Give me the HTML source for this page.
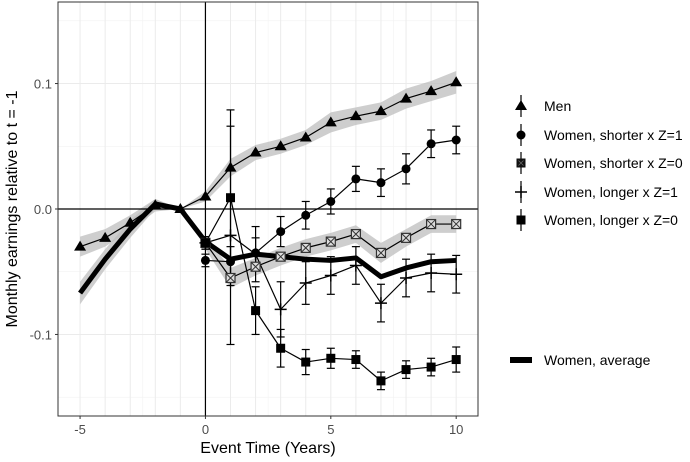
<!DOCTYPE html>
<html><head><meta charset="utf-8"><style>
body{margin:0;background:#fff;font-family:"Liberation Sans",sans-serif}
svg{display:block}
</style></head><body>
<svg id="chart" width="690" height="462" xmlns="http://www.w3.org/2000/svg"></svg>
<script>
const years=[-5,-4,-3,-2,-1,0,1,2,3,4,5,6,7,8,9,10];
const yearsPost=[0,1,2,3,4,5,6,7,8,9,10];
const men=[-0.030,-0.023,-0.011,0.003,0,0.010,0.033,0.045,0.050,0.057,0.069,0.074,0.078,0.088,0.094,0.101];
const menSe=[0.008,0.007,0.006,0.005,0,0.004,0.007,0.006,0.006,0.006,0.008,0.007,0.007,0.008,0.008,0.009];
const avg=[-0.067,-0.040,-0.016,0.004,0,-0.026,-0.040,-0.036,-0.038,-0.040,-0.041,-0.039,-0.054,-0.047,-0.042,-0.041];
const avgSe=[0.009,0.008,0.007,0.004,0,0.004,0.004,0.004,0.004,0.004,0.004,0.004,0.004,0.004,0.004,0.004];
const shortZ1=[-0.041,-0.042,-0.035,-0.018,-0.005,0.006,0.024,0.021,0.032,0.052,0.055];
const shortZ1Se=[0.005,0.012,0.012,0.012,0.011,0.010,0.010,0.011,0.012,0.011,0.011];
const shortZ0=[-0.027,-0.055,-0.046,-0.038,-0.031,-0.026,-0.020,-0.035,-0.023,-0.012,-0.012];
const shortZ0Se=[0.005,0.008,0.007,0.007,0.007,0.007,0.007,0.008,0.007,0.007,0.007];
const longZ1=[-0.027,-0.021,-0.036,-0.080,-0.059,-0.053,-0.045,-0.075,-0.055,-0.051,-0.052];
const longZ1Se=[0.005,0.087,0.022,0.022,0.017,0.015,0.015,0.015,0.015,0.015,0.015];
const longZ0=[-0.027,0.009,-0.081,-0.111,-0.122,-0.119,-0.120,-0.137,-0.128,-0.126,-0.120];
const longZ0Se=[0.005,0.070,0.019,0.015,0.010,0.008,0.007,0.007,0.007,0.007,0.010];
const xTicks=[-5,0,5,10];
const yTicks=[-0.1,0,0.1];
const yTickLabels=["-0.1","0.0","0.1"];

const L=58,R=478,T=2,B=416;
const xMin=-5.88,xMax=10.87,yMin=-0.165,yMax=0.165;
const X=v=>L+(v-xMin)/(xMax-xMin)*(R-L);
const Y=v=>B-(v-yMin)/(yMax-yMin)*(B-T);
const svg=document.getElementById('chart');
const NS='http://www.w3.org/2000/svg';
function mk(tag,attrs,parent){const e=document.createElementNS(NS,tag);for(const k in attrs)e.setAttribute(k,attrs[k]);(parent||svg).appendChild(e);return e;}

const grid=mk('g',{});


[-2.5,2.5,7.5].forEach(v=>mk('line',{x1:X(v),x2:X(v),y1:T,y2:B,stroke:'#f2f2f2','stroke-width':0.6},grid));
[-0.15,-0.05,0.05,0.15].forEach(v=>mk('line',{x1:L,x2:R,y1:Y(v),y2:Y(v),stroke:'#f2f2f2','stroke-width':0.6},grid));
years.forEach(v=>mk('line',{x1:X(v),x2:X(v),y1:T,y2:B,stroke:'#ebebeb','stroke-width':1},grid));
yTicks.forEach(v=>mk('line',{x1:L,x2:R,y1:Y(v),y2:Y(v),stroke:'#ebebeb','stroke-width':1},grid));

function band(xs,ys,se,name){
  let d='M'+xs.map((x,i)=>X(x)+','+Y(ys[i]+se[i])).join('L');
  d+='L'+xs.map((x,i)=>X(x)+','+Y(ys[i]-se[i])).reverse().join('L')+'Z';
  const p=mk('path',{d:d,fill:'#bdbdbd','fill-opacity':0.75});
  
  
}
band(years,men,menSe,'men-ci-band');
band(years.slice(0,5),avg.slice(0,5),avgSe.slice(0,5),'avg-ci-band');
band(yearsPost,shortZ0,shortZ0Se,'short-z0-ci-band');

mk('line',{x1:X(0),x2:X(0),y1:T,y2:B,stroke:'#000','stroke-width':1.2});
mk('line',{x1:L,x2:R,y1:Y(0),y2:Y(0),stroke:'#000','stroke-width':1.2});

function line(xs,ys,w,name){
  const p=mk('polyline',{points:xs.map((x,i)=>X(x)+','+Y(ys[i])).join(' '),fill:'none',stroke:'#000','stroke-width':w,'stroke-linejoin':'round'});
  
  
}
function errs(xs,ys,se,name){
  const g=mk('g',{stroke:'#000','stroke-width':1.2});
  
  
  xs.forEach((x,i)=>{const a=Y(ys[i]+se[i]),b=Y(ys[i]-se[i]),cx=X(x);
    mk('line',{x1:cx,x2:cx,y1:a,y2:b},g);
    mk('line',{x1:cx-4,x2:cx+4,y1:a,y2:a},g);
    mk('line',{x1:cx-4,x2:cx+4,y1:b,y2:b},g);});
}
function marker(type,cx,cy,parent){
  if(type==='tri')mk('path',{d:`M${cx},${cy-6}L${cx+6},${cy+4}L${cx-6},${cy+4}Z`,fill:'#000'},parent);
  else if(type==='circle')mk('circle',{cx:cx,cy:cy,r:4.5,fill:'#000'},parent);
  else if(type==='square')mk('rect',{x:cx-4.5,y:cy-4.5,width:9,height:9,fill:'#000'},parent);
  else if(type==='xsq'){mk('rect',{x:cx-4.5,y:cy-4.5,width:9,height:9,fill:'#ddd',stroke:'#333','stroke-width':1.2},parent);
    mk('path',{d:`M${cx-4.5},${cy-4.5}L${cx+4.5},${cy+4.5}M${cx+4.5},${cy-4.5}L${cx-4.5},${cy+4.5}`,stroke:'#333','stroke-width':1},parent);}
  else if(type==='xsqdark'){mk('rect',{x:cx-4.5,y:cy-4.5,width:9,height:9,fill:'#111'},parent);
    mk('path',{d:`M${cx-2.5},${cy-2.5}L${cx+2.5},${cy+2.5}M${cx+2.5},${cy-2.5}L${cx-2.5},${cy+2.5}`,stroke:'#666','stroke-width':0.8},parent);}
  else if(type==='plus')mk('path',{d:`M${cx-6},${cy}L${cx+6},${cy}M${cx},${cy-6}L${cx},${cy+6}`,stroke:'#000','stroke-width':1.5},parent);
}
function markers(xs,ys,type,name){
  const g=mk('g',{});
  
  
  xs.forEach((x,i)=>marker(type,X(x),Y(ys[i]),g));
}

errs(yearsPost,shortZ1,shortZ1Se,'short-z1-errorbars');
errs(yearsPost,longZ1,longZ1Se,'long-z1-errorbars');
errs(yearsPost,longZ0,longZ0Se,'long-z0-errorbars');
line(yearsPost,shortZ1,1.2,'short-z1-line');
line(yearsPost,shortZ0,1.2,'short-z0-line');
line(yearsPost,longZ1,1.2,'long-z1-line');
line(yearsPost,longZ0,1.2,'long-z0-line');
line(years,men,1.2,'men-line');
line(years,avg,5,'women-average-line');
markers(years,men,'tri','men-markers');
markers(yearsPost,shortZ1,'circle','short-z1-markers');
markers(yearsPost,shortZ0,'xsq','short-z0-markers');
markers(yearsPost,longZ1,'plus','long-z1-markers');
markers(yearsPost,longZ0,'square','long-z0-markers');

mk('rect',{x:L,y:T,width:R-L,height:B-T,fill:'none',stroke:'#333','stroke-width':1});

xTicks.forEach(v=>{mk('line',{x1:X(v),x2:X(v),y1:B,y2:B+3,stroke:'#333'});
  const t=mk('text',{x:X(v),y:B+18,'text-anchor':'middle','font-size':13,fill:'#4d4d4d'});t.textContent=v;
  });
yTicks.forEach((v,i)=>{mk('line',{x1:L-3,x2:L,y1:Y(v),y2:Y(v),stroke:'#333'});
  const t=mk('text',{x:L-6,y:Y(v)+5,'text-anchor':'end','font-size':13,fill:'#4d4d4d'});t.textContent=yTickLabels[i];
  });
const xt=mk('text',{x:(L+R)/2,y:453,'text-anchor':'middle','font-size':16,fill:'#000'});xt.textContent='Event Time (Years)';

const yt=mk('text',{x:0,y:0,'text-anchor':'middle','font-size':16,fill:'#000',transform:`translate(17,${(T+B)/2}) rotate(-90)`});yt.textContent='Monthly earnings relative to t = -1';


const leg=[['tri','Men',106],['circle','Women, shorter x Z=1',135],['xsqdark','Women, shorter x Z=0',163],['plus','Women, longer x Z=1',192],['square','Women, longer x Z=0',220]];
leg.forEach(([m,lab,y])=>{const g=mk('g',{});
  
  mk('line',{x1:521,x2:521,y1:y-11,y2:y+11,stroke:'#000','stroke-width':1.2},g);
  marker(m,521,y,g);
  const t=mk('text',{x:544,y:y+5,'font-size':14,fill:'#000'},g);t.textContent=lab;});
const ga=mk('g',{});

mk('rect',{x:510,y:357,width:22,height:6,fill:'#000'},ga);
const ta=mk('text',{x:544,y:365,'font-size':14,fill:'#000'},ga);ta.textContent='Women, average';
</script>
</body></html>
